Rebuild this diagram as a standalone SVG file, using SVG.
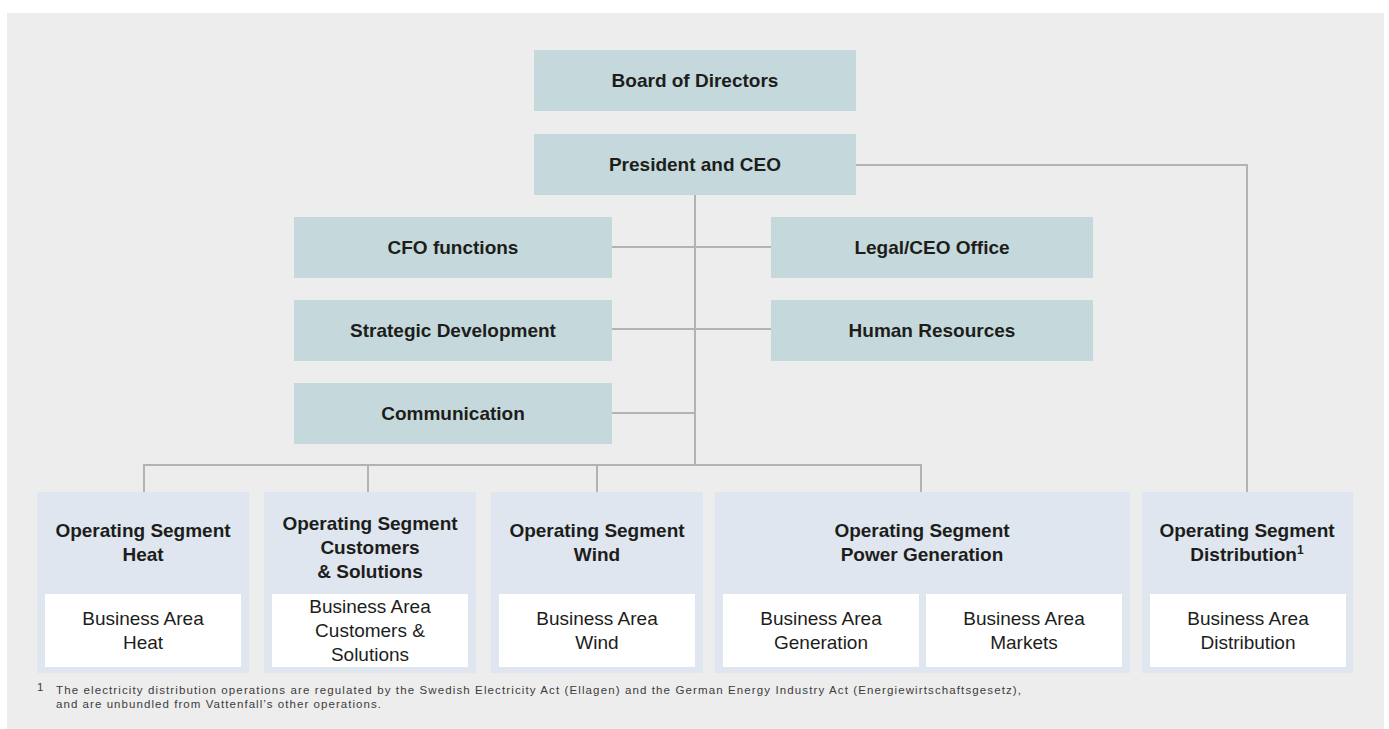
<svg xmlns="http://www.w3.org/2000/svg" width="1389" height="729" viewBox="0 0 1389 729">
  <style>
    .panel { fill: #ededed; }
    .exec { fill: #c5d9dc; }
    .seg { fill: #dfe6ef; }
    .area { fill: #ffffff; }
    .conn { fill: none; stroke: #b3b3b3; stroke-width: 2; stroke-linejoin: miter; stroke-linecap: butt; }
    .lbl { font-family: "Liberation Sans", Arial, sans-serif; font-size: 19px; font-weight: bold; fill: #1d1d1b; text-anchor: middle; }
    .sub { font-family: "Liberation Sans", Arial, sans-serif; font-size: 19px; font-weight: normal; fill: #1d1d1b; text-anchor: middle; }
    .note { font-family: "Liberation Sans", Arial, sans-serif; font-size: 11.5px; fill: #3c3c3c; }
  </style>

  <!-- background panel -->
  <rect class="panel" x="7" y="13" width="1377" height="716"/>

  <!-- reporting lines -->
  <g id="connectors">
    <path class="conn" d="M695 194 V465"/>
    <path class="conn" d="M612 247 H771"/>
    <path class="conn" d="M612 329 H771"/>
    <path class="conn" d="M612 413 H695"/>
    <path class="conn" d="M144 492 V465 H921 V492"/>
    <path class="conn" d="M368 465 V492"/>
    <path class="conn" d="M597 465 V492"/>
    <path class="conn" d="M856 165 H1247 V492"/>
  </g>

  <!-- executive level -->
  <g id="board">
    <rect class="exec" x="534" y="50" width="322" height="61"/>
    <text class="lbl" x="695" y="87">Board of Directors</text>
  </g>
  <g id="ceo">
    <rect class="exec" x="534" y="134" width="322" height="61"/>
    <text class="lbl" x="695" y="171">President and CEO</text>
  </g>

  <!-- staff functions -->
  <g id="cfo">
    <rect class="exec" x="294" y="217" width="318" height="61"/>
    <text class="lbl" x="453" y="254">CFO functions</text>
  </g>
  <g id="legal">
    <rect class="exec" x="771" y="217" width="322" height="61"/>
    <text class="lbl" x="932" y="254">Legal/CEO Office</text>
  </g>
  <g id="strategy">
    <rect class="exec" x="294" y="300" width="318" height="61"/>
    <text class="lbl" x="453" y="337">Strategic Development</text>
  </g>
  <g id="hr">
    <rect class="exec" x="771" y="300" width="322" height="61"/>
    <text class="lbl" x="932" y="337">Human Resources</text>
  </g>
  <g id="communication">
    <rect class="exec" x="294" y="383" width="318" height="61"/>
    <text class="lbl" x="453" y="420">Communication</text>
  </g>

  <!-- operating segments with their business areas -->
  <g id="seg-heat">
    <rect class="seg" x="37" y="492" width="212" height="181"/>
    <text class="lbl" x="143" y="537">Operating Segment</text>
    <text class="lbl" x="143" y="561">Heat</text>
    <rect class="area" x="45" y="594" width="196" height="73"/>
    <text class="sub" x="143" y="625">Business Area</text>
    <text class="sub" x="143" y="649">Heat</text>
  </g>
  <g id="seg-customers">
    <rect class="seg" x="264" y="492" width="212" height="181"/>
    <text class="lbl" x="370" y="530">Operating Segment</text>
    <text class="lbl" x="370" y="554">Customers</text>
    <text class="lbl" x="370" y="578">&amp; Solutions</text>
    <rect class="area" x="272" y="594" width="196" height="73"/>
    <text class="sub" x="370" y="613">Business Area</text>
    <text class="sub" x="370" y="637">Customers &amp;</text>
    <text class="sub" x="370" y="661">Solutions</text>
  </g>
  <g id="seg-wind">
    <rect class="seg" x="491" y="492" width="212" height="181"/>
    <text class="lbl" x="597" y="537">Operating Segment</text>
    <text class="lbl" x="597" y="561">Wind</text>
    <rect class="area" x="499" y="594" width="196" height="73"/>
    <text class="sub" x="597" y="625">Business Area</text>
    <text class="sub" x="597" y="649">Wind</text>
  </g>
  <g id="seg-power">
    <rect class="seg" x="715" y="492" width="415" height="181"/>
    <text class="lbl" x="922" y="537">Operating Segment</text>
    <text class="lbl" x="922" y="561">Power Generation</text>
    <rect class="area" x="723" y="594" width="196" height="73"/>
    <text class="sub" x="821" y="625">Business Area</text>
    <text class="sub" x="821" y="649">Generation</text>
    <rect class="area" x="926" y="594" width="196" height="73"/>
    <text class="sub" x="1024" y="625">Business Area</text>
    <text class="sub" x="1024" y="649">Markets</text>
  </g>
  <g id="seg-distribution">
    <rect class="seg" x="1142" y="492" width="211" height="181"/>
    <text class="lbl" x="1247" y="537">Operating Segment</text>
    <text class="lbl" x="1247" y="561">Distribution<tspan font-size="12" dy="-7">1</tspan></text>
    <rect class="area" x="1150" y="594" width="196" height="73"/>
    <text class="sub" x="1248" y="625">Business Area</text>
    <text class="sub" x="1248" y="649">Distribution</text>
  </g>

  <!-- footnote -->
  <g id="footnote">
    <text class="note" x="37" y="691" font-size="8.5">1</text>
    <text class="note" x="56" y="694" textLength="965">The electricity distribution operations are regulated by the Swedish Electricity Act (Ellagen) and the German Energy Industry Act (Energiewirtschaftsgesetz),</text>
    <text class="note" x="56" y="707.5" textLength="325">and are unbundled from Vattenfall’s other operations.</text>
  </g>
</svg>
